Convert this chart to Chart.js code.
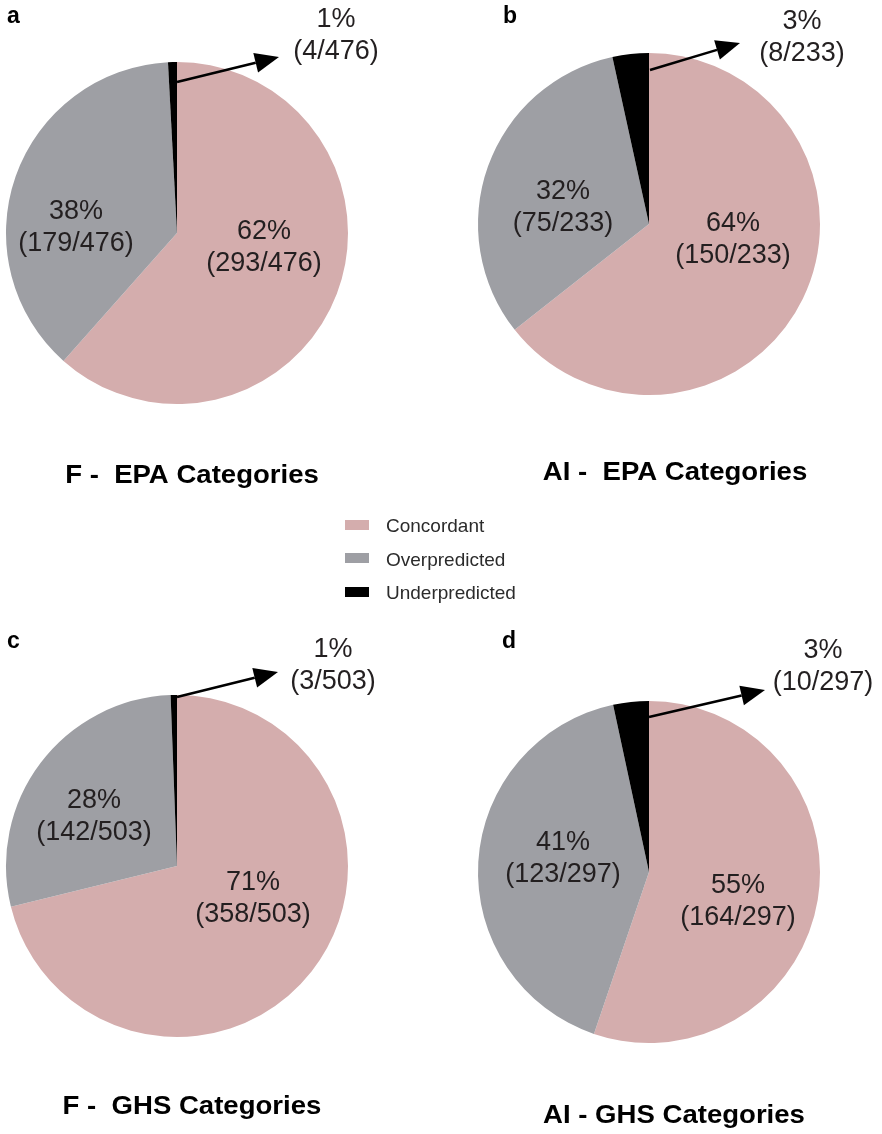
<!DOCTYPE html>
<html>
<head>
<meta charset="utf-8">
<script src="https://cdn.jsdelivr.net/npm/chart.js"></script>
<style>
body { margin:0; background:#fff; }
#page { position:relative; width:882px; height:1134px; overflow:hidden; }
#page canvas { position:absolute; }
#legende { position:absolute; left:345px; top:512px; font-family:"Liberation Sans", Arial, sans-serif; font-size:19px; color:#2b2b2b; }
#legende div { height:33.5px; line-height:28px; white-space:nowrap; }
#legende span.carre { display:inline-block; width:24px; height:10px; margin-right:17px; vertical-align:middle; position:relative; top:-2px; }
</style>
</head>
<body>
<div id="page">
  <canvas id="pieA"></canvas>
  <canvas id="pieB"></canvas>
  <canvas id="pieC"></canvas>
  <canvas id="pieD"></canvas>
  <div id="legende"></div>
</div>
<script>
// categories + values
var categories = ['Concordant', 'Overpredicted', 'Underpredicted'];
var couleurs = ['#d4adad', '#9e9fa4', '#000000'];

var lettres = ['a', 'b', 'c', 'd'];
var titres = ['F -  EPA Categories', 'AI -  EPA Categories', 'F -  GHS Categories', 'AI - GHS Categories'];

var epaF = [293, 179, 4];
var epaAI = [150, 75, 8];
var ghsF = [358, 142, 3];
var ghsAI = [164, 123, 10];

// placement of each panel (canvas origin, pie centre, radius) and its texts
var panneaux = [
    { id:'pieA', data:epaF, x:0, y:0, cx:177, cy:233, r:171,
      lettre:[7, 23], titre:[192, 483],
      txt:[[87, 15], [-101, -5], [159, -197]], fleche:[[0, -151], [102, -176]] },
    { id:'pieB', data:epaAI, x:441, y:0, cx:208, cy:224, r:171,
      lettre:[62, 23], titre:[234, 480],
      txt:[[84, 16], [-86, -16], [153, -186]], fleche:[[1, -154], [91, -181]] },
    { id:'pieC', data:ghsF, x:0, y:567, cx:177, cy:299, r:171,
      lettre:[7, 81], titre:[192, 547],
      txt:[[76, 33], [-83, -49], [156, -200]], fleche:[[0, -169], [101, -194]] },
    { id:'pieD', data:ghsAI, x:441, y:567, cx:208, cy:305, r:171,
      lettre:[61, 81], titre:[233, 556],
      txt:[[89, 30], [-86, -13], [174, -205]], fleche:[[0, -155], [116, -182]] }
];

var LARGEUR = 441, HAUTEUR = 567;

function deuxLignes(ctx, x, y, l1, l2)
{
    ctx.fillText(l1, x, y - 16);
    ctx.fillText(l2, x, y + 16);
}

var etiquettes = {
    id: 'etiquettes',
    afterDraw: function(chart, args, opts)
    {
        var p = opts.panneau;
        var ctx = chart.ctx;
        var arcs = chart.getDatasetMeta(0).data;
        var cx = arcs[0].x, cy = arcs[0].y;
        var valeurs = chart.data.datasets[0].data;
        var total = valeurs.reduce(function(a, b){ return a + b; }, 0);

        ctx.save();
        ctx.fillStyle = '#231f20';
        ctx.textAlign = 'center';
        ctx.textBaseline = 'middle';
        ctx.font = '27px "Liberation Sans", Arial, sans-serif';
        valeurs.forEach(function(v, i){
            var pct = Math.round(v / total * 100) + '%';
            var frac = '(' + v + '/' + total + ')';
            deuxLignes(ctx, cx + p.txt[i][0], cy + p.txt[i][1], pct, frac);
        });

        // arrow towards the small slice
        var x0 = cx + p.fleche[0][0], y0 = cy + p.fleche[0][1];
        var x1 = cx + p.fleche[1][0], y1 = cy + p.fleche[1][1];
        var ang = Math.atan2(y1 - y0, x1 - x0);
        var lg = 24, demi = 10;
        ctx.strokeStyle = '#000';
        ctx.lineWidth = 2.5;
        ctx.beginPath();
        ctx.moveTo(x0, y0);
        ctx.lineTo(x1 - lg * Math.cos(ang), y1 - lg * Math.sin(ang));
        ctx.stroke();
        ctx.fillStyle = '#000';
        ctx.beginPath();
        ctx.moveTo(x1, y1);
        ctx.lineTo(x1 - lg * Math.cos(ang) + demi * Math.sin(ang), y1 - lg * Math.sin(ang) - demi * Math.cos(ang));
        ctx.lineTo(x1 - lg * Math.cos(ang) - demi * Math.sin(ang), y1 - lg * Math.sin(ang) + demi * Math.cos(ang));
        ctx.closePath();
        ctx.fill();

        // panel letter
        ctx.fillStyle = '#000';
        ctx.textAlign = 'left';
        ctx.textBaseline = 'alphabetic';
        ctx.font = 'bold 23px "Liberation Sans", Arial, sans-serif';
        ctx.fillText(opts.lettre, p.lettre[0], p.lettre[1]);

        // title under the pie
        ctx.font = 'bold 26px "Liberation Sans", Arial, sans-serif';
        ctx.textAlign = 'center';
        ctx.translate(p.titre[0], p.titre[1]);
        ctx.scale(1.06, 1);
        ctx.fillText(opts.titre, 0, 0);
        ctx.restore();
    }
};

function afficherPie(p, i)
{
    var canvas = document.getElementById(p.id);
    canvas.style.left = p.x + 'px';
    canvas.style.top = p.y + 'px';
    canvas.width = LARGEUR;
    canvas.height = HAUTEUR;
    canvas.style.width = LARGEUR + 'px';
    canvas.style.height = HAUTEUR + 'px';

    new Chart(canvas.getContext('2d'), {
        type: 'pie',
        data: {
            labels: categories,
            datasets: [{
                data: p.data,
                backgroundColor: couleurs,
                borderWidth: 0,
                hoverOffset: 0
            }]
        },
        options: {
            responsive: false,
            animation: false,
            events: [],
            layout: {
                padding: {
                    left: p.cx - p.r,
                    top: p.cy - p.r,
                    right: LARGEUR - (p.cx + p.r),
                    bottom: HAUTEUR - (p.cy + p.r)
                }
            },
            plugins: {
                legend: { display: false },
                tooltip: { enabled: false },
                etiquettes: { panneau: p, lettre: lettres[i], titre: titres[i] }
            }
        },
        plugins: [etiquettes]
    });
}

panneaux.forEach(afficherPie);

// shared legend
var leg = document.getElementById('legende');
categories.forEach(function(c, i){
    leg.innerHTML += '<div><span class="carre" style="background:' + couleurs[i] + '"></span>' + c + '</div>';
});
</script>
</body>
</html>
